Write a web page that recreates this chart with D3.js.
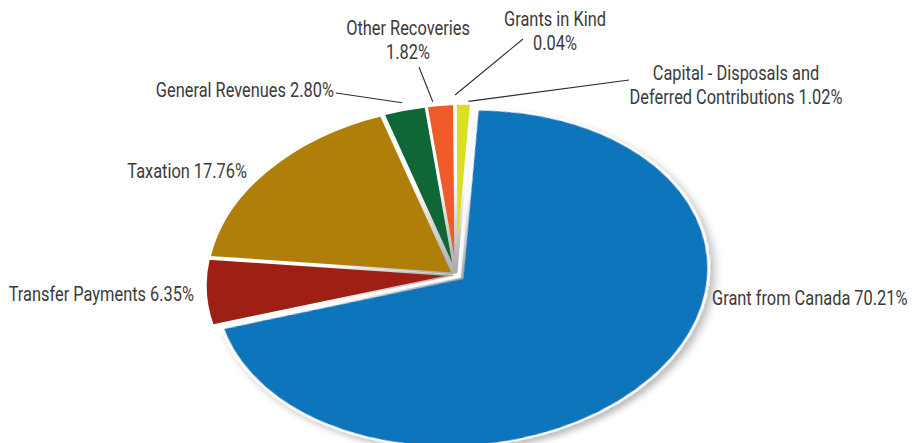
<!DOCTYPE html>
<html>
<head>
<meta charset="utf-8">
<script src="https://cdn.jsdelivr.net/npm/d3@7/dist/d3.min.js"></script>
<style>
  html, body { margin: 0; padding: 0; background: #fff; }
  svg { display: block; }
  .lbl { font-family: "Roboto", "Liberation Sans", sans-serif; font-size: 20px; font-weight: 400; fill: #3a3a3a; }
</style>
</head>
<body>
<svg id="chart" width="912" height="443"></svg>
<script>
// Revenue sources, in percent of total
const categories = [
  "Grant from Canada",
  "Transfer Payments",
  "Taxation",
  "General Revenues",
  "Other Recoveries",
  "Grants in Kind",
  "Capital - Disposals and Deferred Contributions"
];
const shares = [70.21, 6.35, 17.76, 2.80, 1.82, 0.04, 1.02];
// Label text, one array per line; the percentage is appended to the last line
const labelLines = [
  ["Grant from Canada"],
  ["Transfer Payments"],
  ["Taxation"],
  ["General Revenues"],
  ["Other Recoveries", ""],
  ["Grants in Kind", ""],
  ["Capital - Disposals and", "Deferred Contributions"]
];
const colors = ["#1074bb", "#9e1f14", "#b07f09", "#0f6637", "#f15a29", "#e9e9e9", "#d9e024"];

// Layout
const width = 912, height = 443;
const cx = 456, cy = 275;       // pie centre
const R = 247;                  // disc radius (major semi-axis)
const tilt = 168 / 247;         // vertical squash of the disc
const spin = -4.5;              // in-plane rotation of the tilted disc, degrees
const startDeg = 6.6;
const condense = 0.82;          // horizontal squeeze giving a condensed face

// label placement: text anchor point, alignment, and leader line (start point,
// position along the slice, radius factor)
const labelLayout = [
  { x: 712, y: 305, anchor: "start", leader: false },
  { x: 194, y: 301, anchor: "end", leader: false },
  { x: 247, y: 178, anchor: "end", leader: false },
  { x: 334, y: 97,  anchor: "end", leader: true, lx: 336, ly: 93, f: 0.5, r: 1.06 },
  { x: 408, y: 35,  anchor: "middle", leader: true, lx: 419, ly: 67, f: 0.25, r: 1.04 },
  { x: 555, y: 26,  anchor: "middle", leader: true, lx: 523, ly: 39, f: 0.5, r: 1.07 },
  { x: 736, y: 80,  anchor: "middle", leader: true, lx: 629, ly: 80, f: 0.8, r: 1.03 }
];
const lineGap = 24;

// maps a pie angle / radius to page coordinates, same as the disc group transform
const rad = Math.PI / 180;
function project(angle, r) {
  const X = Math.sin(angle) * r;
  const Y = -Math.cos(angle) * r * tilt;
  const c = Math.cos(spin * rad), s = Math.sin(spin * rad);
  return [cx + X * c - Y * s, cy + X * s + Y * c];
}

const svg = d3.select("#chart");

const defs = svg.append("defs");
const grad = defs.append("radialGradient")
  .attr("id", "edge")
  .attr("gradientUnits", "userSpaceOnUse")
  .attr("cx", 0).attr("cy", 0).attr("r", R);
grad.append("stop").attr("offset", "0").attr("stop-color", "#a9a9a9");
grad.append("stop").attr("offset", "0.3").attr("stop-color", "#d6d6d6");
grad.append("stop").attr("offset", "0.55").attr("stop-color", "#ffffff");
grad.append("stop").attr("offset", "1").attr("stop-color", "#ffffff");

const shadow = defs.append("filter")
  .attr("id", "shadow")
  .attr("x", "-10%").attr("y", "-10%").attr("width", "125%").attr("height", "130%");
shadow.append("feGaussianBlur").attr("in", "SourceAlpha").attr("stdDeviation", 5).attr("result", "blur");
shadow.append("feOffset").attr("in", "blur").attr("dx", 4).attr("dy", 6).attr("result", "off");
shadow.append("feComponentTransfer").attr("in", "off").attr("result", "soft")
  .append("feFuncA").attr("type", "linear").attr("slope", 0.28);
const merge = shadow.append("feMerge");
merge.append("feMergeNode").attr("in", "soft");
merge.append("feMergeNode").attr("in", "SourceGraphic");

const pie = d3.pie()
  .sort(null)
  .value(d => d)
  .startAngle(startDeg * rad)
  .endAngle(startDeg * rad + 2 * Math.PI);

const arc = d3.arc().innerRadius(0).outerRadius(R);
const arcs = pie(shares);

// explode distance per slice (in disc units)
const explode = i => (i === 0 ? 8 : 4);

const disc = svg.append("g")
  .attr("transform", `translate(${cx},${cy}) rotate(${spin}) scale(1,${tilt})`);

disc.selectAll("path.slice")
  .data(arcs)
  .join("path")
  .attr("class", "slice")
  .attr("d", arc)
  .attr("fill", (d, i) => colors[i])
  .attr("stroke", "url(#edge)")
  .attr("stroke-width", 2.6)
  .attr("stroke-linejoin", "round")
  .attr("filter", (d, i) => (i === 0 ? "url(#shadow)" : null))
  .attr("transform", (d, i) => {
    const m = (d.startAngle + d.endAngle) / 2;
    const e = explode(i);
    return `translate(${Math.sin(m) * e},${-Math.cos(m) * e})`;
  });

// leader lines from the rim of each small slice to its label
const leaders = svg.append("g");
arcs.forEach((d, i) => {
  const L = labelLayout[i];
  if (!L.leader) return;
  const a = d.startAngle + (d.endAngle - d.startAngle) * L.f;
  const [px, py] = project(a, R * L.r);
  leaders.append("line")
    .attr("x1", L.lx).attr("y1", L.ly)
    .attr("x2", px).attr("y2", py)
    .attr("stroke", "#2e2e2e")
    .attr("stroke-width", 1.1);
});

// labels
const fmt = v => v.toFixed(2) + "%";
const labels = svg.append("g");
arcs.forEach((d, i) => {
  const L = labelLayout[i];
  const lines = labelLines[i].slice();
  const last = lines.length - 1;
  lines[last] = (lines[last] ? lines[last] + " " : "") + fmt(shares[i]);
  const t = labels.append("text")
    .attr("class", "lbl")
    .attr("text-anchor", L.anchor)
    .attr("transform", `translate(${L.x},${L.y}) scale(${condense},1)`);
  lines.forEach((s, k) => {
    t.append("tspan")
      .attr("x", 0)
      .attr("dy", k === 0 ? 0 : lineGap)
      .text(s);
  });
});
</script>
</body>
</html>
